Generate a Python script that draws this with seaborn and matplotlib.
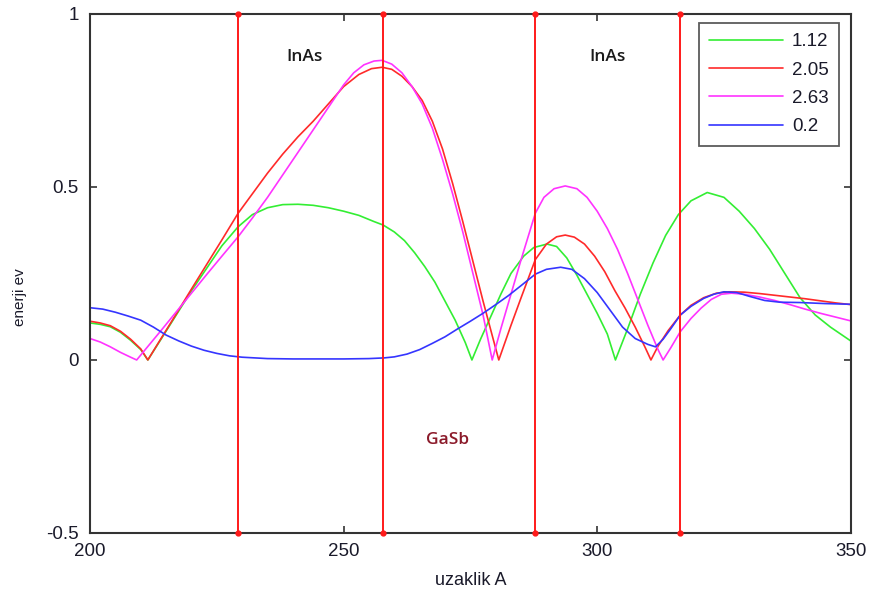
import numpy as np
import pandas as pd
import seaborn as sns
import matplotlib
matplotlib.use("Agg")
import matplotlib.pyplot as plt

# Energy profiles along the superlattice for each photon energy (eV)
x_112 = [200, 202, 204, 206, 208, 210, 211.4, 214, 217, 220, 223, 226, 229.2, 232, 235, 238, 241, 244,
         247, 250, 253, 256, 257.8, 260, 262, 264, 266, 268, 270, 272, 274, 275.3, 277, 279, 281, 283,
         285.5, 287.5, 290.1, 292, 294, 296, 298, 300, 302, 303.6, 306, 308.5, 311, 313.5, 316, 318.5,
         321.7, 325, 328, 331, 334, 337, 340, 343, 346, 350]
y_112 = [0.107, 0.103, 0.096, 0.08, 0.057, 0.03, 0.0, 0.06, 0.13, 0.2, 0.265, 0.33, 0.385, 0.42, 0.44,
         0.449, 0.45, 0.447, 0.44, 0.43, 0.418, 0.4, 0.39, 0.37, 0.345, 0.31, 0.27, 0.225, 0.17, 0.115,
         0.05, 0.0, 0.06, 0.125, 0.19, 0.25, 0.3, 0.325, 0.335, 0.328, 0.295, 0.245, 0.19, 0.135, 0.075,
         0.0, 0.09, 0.19, 0.28, 0.36, 0.42, 0.46, 0.484, 0.47, 0.43, 0.38, 0.32, 0.25, 0.18, 0.13, 0.095,
         0.055]

x_205 = [200, 202, 204, 206, 208, 210, 211.4, 214, 217, 220, 223, 226, 229.2, 232, 235, 238, 241, 244,
         247, 250, 253, 255.5, 257.6, 259.5, 261.5, 263.5, 265.5, 267.5, 269.5, 271.5, 273.5, 275.5, 277.5,
         279.5, 280.6, 283, 285, 287.8, 290, 292, 293.7, 295.5, 297.5, 299.5, 301.5, 303.5, 305.5, 307.5,
         309.5, 310.6, 312, 314, 316.4, 318.5, 321, 323.5, 326, 329, 332, 335, 338, 341, 344, 347, 350]
y_205 = [0.112, 0.107, 0.099, 0.083, 0.06, 0.032, 0.0, 0.062, 0.133, 0.205, 0.276, 0.347, 0.424, 0.48,
         0.54, 0.595, 0.645, 0.69, 0.74, 0.79, 0.825, 0.842, 0.846, 0.84, 0.82, 0.79, 0.75, 0.69, 0.61,
         0.51, 0.4, 0.285, 0.17, 0.06, 0.0, 0.1, 0.18, 0.29, 0.335, 0.356, 0.361, 0.355, 0.335, 0.3, 0.255,
         0.2, 0.15, 0.095, 0.035, 0.0, 0.04, 0.085, 0.13, 0.158, 0.18, 0.193, 0.197, 0.196, 0.192, 0.187,
         0.182, 0.177, 0.171, 0.165, 0.16]

x_263 = [200, 202, 204, 206, 208, 209.2, 211, 214, 217, 220, 223, 226, 229.2, 232, 235, 238, 241, 244,
         247, 250, 252, 254, 256, 257.6, 259.5, 261.5, 263.5, 265.5, 267.5, 269.5, 271.5, 273.5, 275.5,
         277.5, 279.3, 281, 283, 285, 287.8, 289.5, 291.5, 293.7, 296, 298, 300, 302, 304, 306, 308, 310,
         312, 313, 314.5, 316.4, 318.5, 320.5, 322.5, 324.5, 326.5, 329, 332, 335, 338, 341, 344, 347, 350]
y_263 = [0.062, 0.052, 0.038, 0.022, 0.008, 0.0, 0.032, 0.085, 0.139, 0.193, 0.247, 0.3, 0.356, 0.41,
         0.47, 0.535, 0.6, 0.665, 0.73, 0.795, 0.83, 0.853, 0.864, 0.866, 0.855, 0.83, 0.79, 0.74, 0.67,
         0.58, 0.48, 0.37, 0.25, 0.13, 0.0, 0.09, 0.19, 0.29, 0.424, 0.47, 0.495, 0.503, 0.495, 0.47, 0.43,
         0.38, 0.32, 0.25, 0.175, 0.1, 0.03, 0.0, 0.035, 0.082, 0.12, 0.15, 0.175, 0.19, 0.193, 0.19,
         0.182, 0.172, 0.16, 0.147, 0.135, 0.124, 0.113]

x_02 = [200, 202.5, 205, 207.5, 210, 212.5, 215, 217.5, 220, 222.5, 225, 227.5, 230, 235, 240, 245, 250,
        255, 258, 260, 262.5, 265, 267.5, 270, 272.5, 275, 277.5, 280, 282.5, 285, 287.8, 290, 292.8, 295,
        297.5, 300, 302.5, 305, 307.5, 310, 311.5, 313, 314.5, 316.4, 318.5, 321, 323, 325, 327.5, 330,
        333, 336, 340, 345, 350]
y_02 = [0.151, 0.147, 0.138, 0.127, 0.115, 0.095, 0.072, 0.055, 0.04, 0.028, 0.019, 0.012, 0.008, 0.004,
        0.003, 0.003, 0.003, 0.004, 0.006, 0.009, 0.017, 0.03, 0.048, 0.067, 0.09, 0.112, 0.135, 0.16,
        0.186, 0.215, 0.248, 0.262, 0.268, 0.262, 0.235, 0.195, 0.145, 0.095, 0.062, 0.045, 0.038, 0.06,
        0.09, 0.13, 0.155, 0.178, 0.19, 0.197, 0.195, 0.184, 0.172, 0.167, 0.166, 0.163, 0.161]

series_names = ["1.12", "2.05", "2.63", "0.2"]
series_colors = ["#33ee33", "#ff2a2a", "#ff33ff", "#3535ff"]

# Layer interfaces (InAs / GaSb / InAs)
interfaces = [229.2, 257.8, 287.8, 316.4]

frames = []
for name, xs, ys in zip(series_names, [x_112, x_205, x_263, x_02], [y_112, y_205, y_263, y_02]):
    frames.append(pd.DataFrame({"uzaklik": xs, "enerji": ys, "seri": name}))
df = pd.concat(frames, ignore_index=True)

sns.set_style("white")
plt.rcParams["font.family"] = ["Liberation Sans", "DejaVu Sans"]

fig = plt.figure(figsize=(8.69, 5.92), dpi=100)
ax = fig.add_axes([0.1036, 0.0997, 0.8754, 0.8767])

sns.lineplot(data=df, x="uzaklik", y="enerji", hue="seri", hue_order=series_names,
             palette=dict(zip(series_names, series_colors)), estimator=None, sort=False,
             linewidth=1.2, ax=ax)

for xv in interfaces:
    ax.plot([xv, xv], [1.0, -0.5], color="#ff1a1a", linewidth=1.4, marker="o", markersize=3.5,
            clip_on=False, zorder=3)

ax.set_xlim(200, 350)
ax.set_ylim(-0.5, 1.0)
ax.set_xticks([200, 250, 300, 350])
ax.set_yticks([-0.5, 0, 0.5, 1])
ax.set_xticklabels(["200", "250", "300", "350"])
ax.set_yticklabels(["-0.5", "0", "0.5", "1"])
ax.tick_params(direction="in", length=5, width=1.2, colors="#333333", labelcolor="#1a1a2a",
               labelsize=13.5, top=True, right=True, bottom=True, left=True)
ax.tick_params(axis="x", pad=7)
ax.tick_params(axis="y", pad=8)
for sp in ax.spines.values():
    sp.set_visible(True)
    sp.set_color("#333333")
    sp.set_linewidth(1.5)

ax.set_xlabel("uzaklik A", fontsize=13, color="#1a1a2a", labelpad=9)
ax.set_ylabel("enerji ev", fontsize=11, color="#1a1a2a", fontstretch="condensed")
ax.yaxis.set_label_coords(-0.083, 0.455)

ax.text(242.4, 0.876, "InAs", fontsize=12.5, color="#1a1a1a", ha="center", va="center",
        family=["Open Sans", "DejaVu Sans"], fontweight="semibold")
ax.text(302.0, 0.876, "InAs", fontsize=12.5, color="#1a1a1a", ha="center", va="center",
        family=["Open Sans", "DejaVu Sans"], fontweight="semibold")
ax.text(270.5, -0.23, "GaSb", fontsize=12.5, color="#8b1a2a", ha="center", va="center",
        family=["Open Sans", "DejaVu Sans"], fontweight="semibold")

leg = ax.legend(loc="upper right", bbox_to_anchor=(0.992, 0.994), fontsize=13.5, frameon=True,
                fancybox=False, edgecolor="#333333", handlelength=3.9, borderpad=0.55,
                labelspacing=0.6, handletextpad=0.5, borderaxespad=0.3)
leg.get_frame().set_linewidth(1.3)
leg.set_title(None)
for t in leg.get_texts():
    t.set_color("#1a1a2a")

fig.savefig("out.png", dpi=100)
